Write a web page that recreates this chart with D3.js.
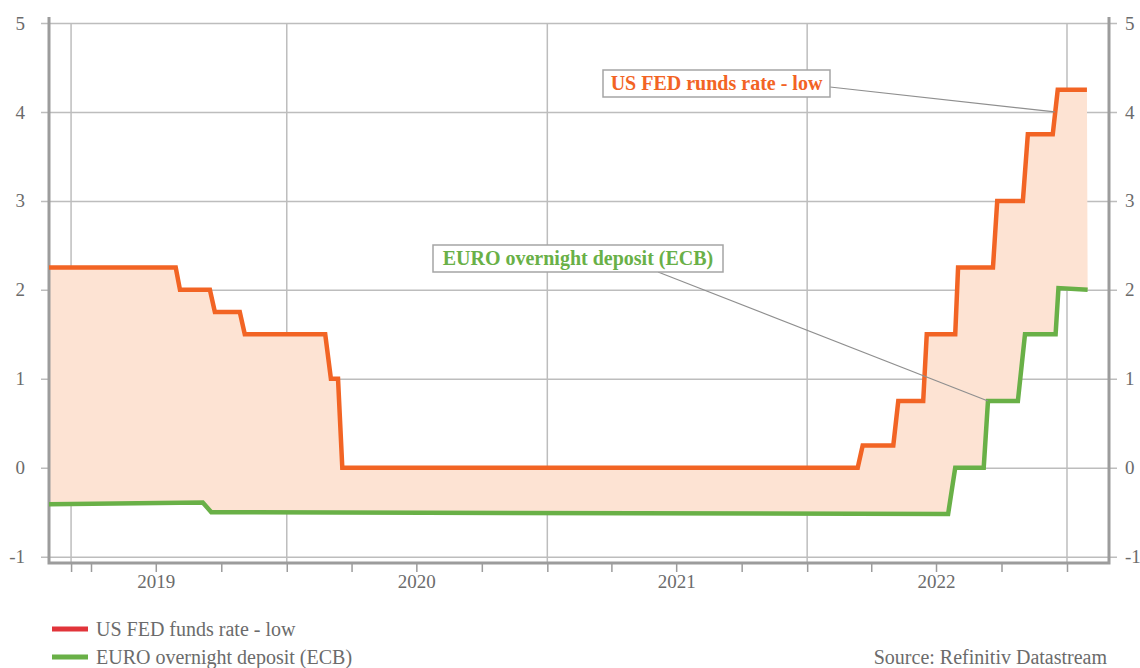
<!DOCTYPE html>
<html>
<head>
<meta charset="utf-8">
<script src="https://cdn.jsdelivr.net/npm/d3@7"></script>
<style>
  body { margin: 0; background: white; }
  svg { display: block; font-family: "Liberation Serif", "DejaVu Serif", serif; }
</style>
</head>
<body>
<div id="chart"></div>
<script>
// corners of the step lines
const fedDates = ["2019-02-01", "2019-07-29", "2019-08-04", "2019-09-15", "2019-09-22", "2019-10-27", "2019-11-03",
  "2020-02-24", "2020-03-03", "2020-03-13", "2020-03-19", "2022-03-13", "2022-03-20", "2022-05-02", "2022-05-09",
  "2022-06-13", "2022-06-18", "2022-07-28", "2022-08-01", "2022-09-19", "2022-09-25", "2022-10-31", "2022-11-07",
  "2022-12-12", "2022-12-19", "2023-01-29"];
const fedValues = [2.25, 2.25, 2.0, 2.0, 1.75, 1.75, 1.5,
  1.5, 1.0, 1.0, 0, 0, 0.25, 0.25, 0.75,
  0.75, 1.5, 1.5, 2.25, 2.25, 3.0, 3.0, 3.75,
  3.75, 4.25, 4.25];

const ecbDates = ["2019-02-01", "2019-09-05", "2019-09-17", "2022-07-18", "2022-07-28", "2022-09-06", "2022-09-12",
  "2022-10-24", "2022-11-03", "2022-12-16", "2022-12-20", "2023-01-30"];
const ecbValues = [-0.41, -0.39, -0.5, -0.52, 0, 0, 0.75,
  0.75, 1.5, 1.5, 2.02, 2.0];

const yTicks = [-1, 0, 1, 2, 3, 4, 5];
const yearLabels = ["2019", "2020", "2021", "2022"];
const quarterTicks = ["2019-03-04", "2019-04-01", "2019-07-01", "2019-10-01", "2020-01-01", "2020-04-01", "2020-07-01",
  "2020-10-01", "2021-01-01", "2021-04-01", "2021-07-01", "2021-10-01", "2022-01-01", "2022-04-01",
  "2022-07-01", "2022-10-01", "2023-01-01"];
const gridDates = ["2019-03-04", "2020-01-01", "2021-01-01", "2022-01-01", "2023-01-01"];

const seriesNames = ["US FED funds rate - low", "EURO overnight deposit (ECB)"];
const fedNote = "US FED runds rate - low";
const ecbNote = "EURO overnight deposit (ECB)";

const width = 1140, height = 668;
const parse = d3.timeParse("%Y-%m-%d");

const fedColor = "#f26424", ecbColor = "#69b047", fillColor = "#fde3d3";
const textColor = "#6b6b6b", gridColor = "#bdbdbd", axisColor = "#9c9c9c";
const serif = '"Liberation Serif", "DejaVu Serif", serif';

let svg = d3.select("#chart")
  .append("svg")
  .attr("width", width)
  .attr("height", height);

let x = d3.scaleTime()
  .domain([parse("2019-02-01"), parse("2023-03-01")])
  .range([49, 1109]);

let y = d3.scaleLinear()
  .domain([-1, 5])
  .range([556.7, 23]);

let fed = fedDates.map((d, i) => [parse(d), fedValues[i]]);
let ecb = ecbDates.map((d, i) => [parse(d), ecbValues[i]]);

let line = d3.line()
  .x(d => x(d[0]))
  .y(d => y(d[1]));

// plain hyphen for negatives, like the original
let yFormat = d => String(d);

// horizontal gridlines + left labels
let yLeft = svg.append("g")
  .attr("transform", "translate(41,0)")
  .call(d3.axisLeft(y).tickValues(yTicks).tickSize(-1076).tickPadding(16).tickFormat(yFormat));
yLeft.select(".domain").remove();
yLeft.selectAll("line").attr("stroke", gridColor).attr("stroke-width", 1.5);
yLeft.selectAll("text").attr("fill", textColor).style("font-size", "19px").style("font-family", serif);

let yRight = svg.append("g")
  .attr("transform", "translate(1117,0)")
  .call(d3.axisRight(y).tickValues(yTicks).tickSize(0).tickPadding(8).tickFormat(yFormat));
yRight.select(".domain").remove();
yRight.selectAll("text").attr("fill", textColor).style("font-size", "19px").style("font-family", serif);

// vertical gridlines
svg.append("g")
  .selectAll("line")
  .data(gridDates)
  .enter()
  .append("line")
  .attr("x1", d => x(parse(d)))
  .attr("x2", d => x(parse(d)))
  .attr("y1", y(5))
  .attr("y2", 563)
  .attr("stroke", gridColor)
  .attr("stroke-width", 1.5);

// fill between the two series
let areaPath = line(fed) + "L" + line(ecb.slice().reverse()).slice(1) + "Z";
svg.append("path")
  .attr("d", areaPath)
  .attr("fill", fillColor)
  .attr("stroke", "none");

// quarter ticks
let xAxis = svg.append("g")
  .attr("transform", "translate(0,563)")
  .call(d3.axisBottom(x).tickValues(quarterTicks.map(parse)).tickSize(9).tickFormat(""));
xAxis.select(".domain").remove();
xAxis.selectAll("line").attr("stroke", axisColor).attr("stroke-width", 1.5);

let xLabels = svg.append("g")
  .attr("transform", "translate(0,563)")
  .call(d3.axisBottom(x).tickValues(yearLabels.map(d => parse(d + "-07-01"))).tickSize(0).tickPadding(12)
    .tickFormat(d3.timeFormat("%Y")));
xLabels.select(".domain").remove();
xLabels.selectAll("text").attr("fill", textColor).style("font-size", "19px").style("font-family", serif);

// frame: left, right, bottom
svg.append("path")
  .attr("d", "M49,17V563H1109V17")
  .attr("fill", "none")
  .attr("stroke", axisColor)
  .attr("stroke-width", 3);

// series lines
svg.append("path")
  .attr("d", line(ecb))
  .attr("fill", "none")
  .attr("stroke", ecbColor)
  .attr("stroke-width", 4.5);

svg.append("path")
  .attr("d", line(fed))
  .attr("fill", "none")
  .attr("stroke", fedColor)
  .attr("stroke-width", 4.5);

// annotations
function note(text, color, box, target, from) {
  svg.append("line")
    .attr("x1", from[0]).attr("y1", from[1])
    .attr("x2", x(parse(target[0]))).attr("y2", y(target[1]))
    .attr("stroke", "#8f8f8f")
    .attr("stroke-width", 1.2);
  svg.append("rect")
    .attr("x", box[0]).attr("y", box[1])
    .attr("width", box[2]).attr("height", box[3])
    .attr("fill", "white")
    .attr("stroke", "#a5a5a5")
    .attr("stroke-width", 1.5);
  svg.append("text")
    .attr("x", box[0] + box[2] / 2)
    .attr("y", box[1] + 20)
    .attr("text-anchor", "middle")
    .attr("fill", color)
    .style("font-size", "20px")
    .style("font-weight", "bold")
    .text(text);
}
note(fedNote, fedColor, [603, 70, 227, 27], ["2022-12-15", 4.0], [830, 87]);
note(ecbNote, ecbColor, [433, 245, 290, 27], ["2022-09-12", 0.75], [658, 272]);

// legend
let legendColors = ["#e1343a", ecbColor];
svg.selectAll("legline")
  .data(seriesNames)
  .enter()
  .append("line")
  .attr("x1", 52).attr("x2", 88)
  .attr("y1", (d, i) => 629 + i * 28)
  .attr("y2", (d, i) => 629 + i * 28)
  .attr("stroke", (d, i) => legendColors[i])
  .attr("stroke-width", 5);

svg.selectAll("legtext")
  .data(seriesNames)
  .enter()
  .append("text")
  .attr("x", 96)
  .attr("y", (d, i) => 636 + i * 28)
  .attr("fill", textColor)
  .style("font-size", "20px")
  .text(d => d);

svg.append("text")
  .attr("x", 1107)
  .attr("y", 664)
  .attr("text-anchor", "end")
  .attr("fill", textColor)
  .style("font-size", "20px")
  .text("Source: Refinitiv Datastream");
</script>
</body>
</html>
